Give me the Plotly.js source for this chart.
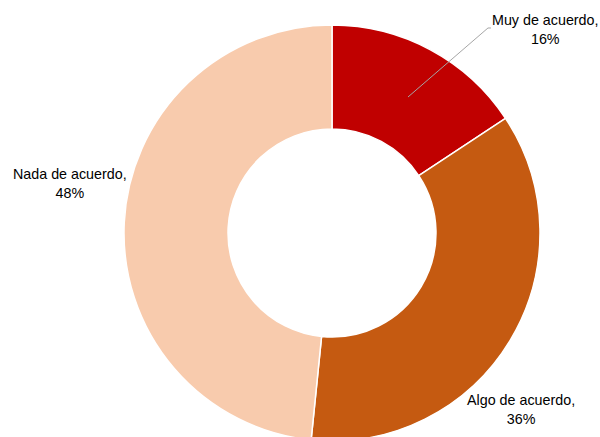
<!DOCTYPE html>
<html>
<head>
<meta charset="utf-8">
<script src="https://cdn.plot.ly/plotly-3.0.1.min.js"></script>
<style>
html,body{margin:0;padding:0;overflow:hidden;background:#fff;width:600px;height:437px;}
#chart{width:600px;height:441px;}
</style>
</head>
<body>
<div id="chart"></div>
<script>
const categories = ["Muy de acuerdo", "Algo de acuerdo", "Nada de acuerdo"];
const values = [15.7, 35.9, 48.4];
const colors = ["#C00000", "#C55A11", "#F8CBAD"];
const labelPos = [[0.8974, 0.988], [0.8535, 0.0757], [0.0112, 0.619]];

const annotations = categories.map((c, i) => ({
  text: c + ",<br>" + Math.round(values[i]) + "%",
  x: labelPos[i][0], y: labelPos[i][1], xref: "paper", yref: "paper",
  xanchor: "center", yanchor: "middle", showarrow: false, align: "center",
  font: {family: "Liberation Sans, Arial, sans-serif", size: 14.3, color: "#000"}
}));

Plotly.newPlot("chart", [{
  type: "pie",
  labels: categories,
  values: values,
  hole: 0.5,
  sort: false,
  direction: "clockwise",
  rotation: 0,
  textinfo: "none",
  marker: {colors: colors, line: {color: "#FFFFFF", width: 1.5}},
  domain: {x: [0, 1], y: [0, 1]},
  showlegend: false
}], {
  width: 600, height: 441,
  margin: {l: 64, r: 0, t: 25, b: 0},
  paper_bgcolor: "#fff",
  showlegend: false,
  annotations: annotations,
  shapes: [{
    type: "path", xref: "paper", yref: "paper",
    path: "M 0.6418 0.8269 L 0.7910 0.9928 L 0.7966 0.9928",
    line: {color: "#A6A6A6", width: 1}
  }]
}, {staticPlot: true, displayModeBar: false});
</script>
</body>
</html>
